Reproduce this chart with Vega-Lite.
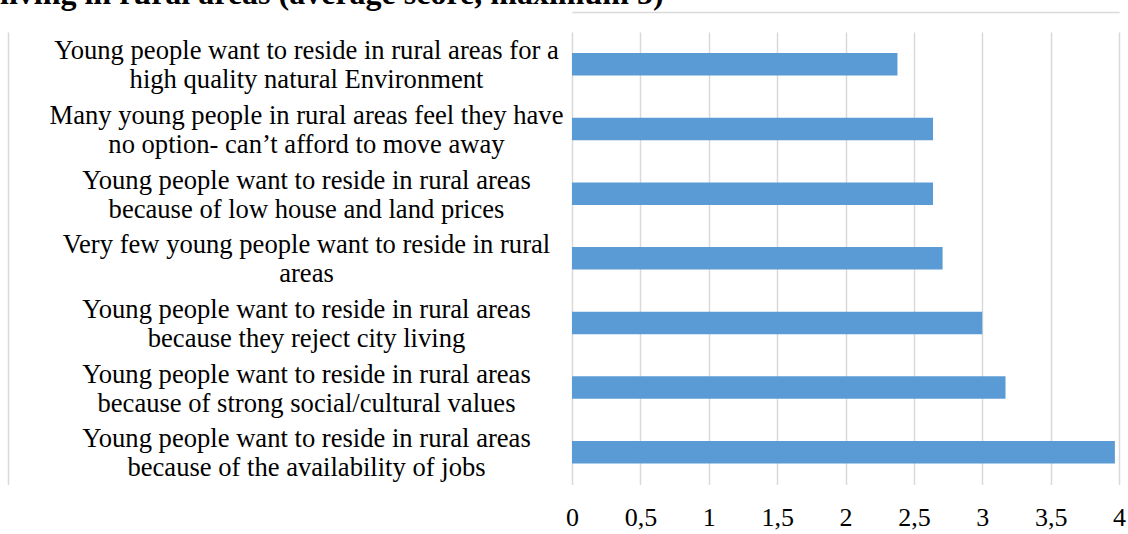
{
  "$schema": "https://vega.github.io/schema/vega-lite/v6.json",
  "autosize": {"type": "none"},
  "width": 547,
  "height": 452.6,
  "padding": {"left": 572, "top": 32, "right": 9, "bottom": 49.4},
  "background": "white",
  "title": {
    "text": "living in rural areas (average score, maximum 5)",
    "anchor": "start",
    "frame": "group",
    "font": "Liberation Serif",
    "fontSize": 32,
    "fontWeight": "bold",
    "color": "black",
    "baseline": "alphabetic",
    "dx": -572,
    "dy": 26,
    "offset": 2
  },
  "data": {
    "values": [
      {"label": "Young people want to reside in rural areas for a|high quality natural Environment", "score": 2.38},
      {"label": "Many young people in rural areas feel they have|no option- can’t afford to move away", "score": 2.64},
      {"label": "Young people want to reside in rural areas|because of low house and land prices", "score": 2.64},
      {"label": "Very few young people want to reside in rural|areas", "score": 2.71},
      {"label": "Young people want to reside in rural areas|because they reject city living", "score": 3.0},
      {"label": "Young people want to reside in rural areas|because of strong social/cultural values", "score": 3.17},
      {"label": "Young people want to reside in rural areas|because of the availability of jobs", "score": 3.97}
    ]
  },
  "layer": [
    {
      "mark": {"type": "bar", "color": "#5B9BD5"},
      "encoding": {
        "y": {
          "field": "label",
          "type": "nominal",
          "sort": null,
          "scale": {"paddingInner": 0.652, "paddingOuter": 0.326},
          "axis": {
            "title": null,
            "orient": "left",
            "domain": false,
            "ticks": false,
            "tickSize": 0,
            "grid": false,
            "labelExpr": "split(datum.value, '|')",
            "labelAlign": "center",
            "labelBaseline": "middle",
            "labelPadding": 266,
            "labelOffset": -13,
            "labelLineHeight": 29,
            "labelFont": "Liberation Serif",
            "labelFontSize": 26.6,
            "labelColor": "black",
            "labelLimit": 700,
            "labelOverlap": false
          }
        },
        "x": {
          "field": "score",
          "type": "quantitative",
          "scale": {"domain": [0, 4], "nice": false, "zero": true},
          "axis": {
            "title": null,
            "orient": "bottom",
            "values": [0, 0.5, 1, 1.5, 2, 2.5, 3, 3.5, 4],
            "labelExpr": "replace(toString(datum.value), '.', ',')",
            "domain": false,
            "ticks": false,
            "tickSize": 0,
            "grid": true,
            "gridColor": "#d9d9d9",
            "gridWidth": 1.5,
            "labelPadding": 41,
            "labelBaseline": "alphabetic",
            "labelFont": "Liberation Serif",
            "labelFontSize": 26,
            "labelColor": "black",
            "labelOverlap": false,
            "labelFlush": false
          }
        }
      }
    },
    {
      "mark": {"type": "bar", "opacity": 0},
      "encoding": {
        "y": {
          "field": "label",
          "type": "nominal",
          "sort": null,
          "axis": {
            "title": null,
            "orient": "left",
            "offset": 564,
            "labels": false,
            "ticks": false,
            "grid": false,
            "domain": true,
            "domainColor": "#d9d9d9",
            "domainWidth": 1.5
          }
        },
        "x": {
          "field": "score",
          "type": "quantitative",
          "axis": {
            "title": null,
            "orient": "top",
            "offset": 20,
            "labels": false,
            "ticks": false,
            "grid": false,
            "domain": true,
            "domainColor": "#d9d9d9",
            "domainWidth": 1.5
          }
        }
      }
    }
  ],
  "resolve": {"axis": {"x": "independent", "y": "independent"}},
  "config": {"view": {"stroke": null}}
}
